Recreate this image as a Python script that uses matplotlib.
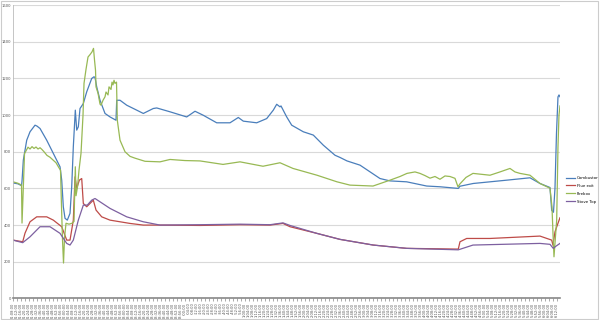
import numpy as np
import matplotlib.pyplot as plt
from matplotlib.patches import Rectangle
from datetime import datetime, timedelta

# minutes since 21:08 and temperatures
combustor_t = [0, 5, 8.5, 9, 10.3, 13.7, 17, 22, 24, 27, 33.7, 40.3, 47, 48.7, 50.3, 52, 54.3, 57, 58.7,
               60.3, 62.3, 63.7, 65.3, 67, 70.3, 73.7, 78.7, 81, 82, 83.7, 87, 92, 97, 103, 103.7, 107,
               113.7, 123.7, 130.3, 140.3, 143.7, 157, 173.7, 182, 190.3, 203.7, 217, 225.3, 230.3, 243.7,
               253.7, 260.3, 263.7, 267, 268, 273.7, 278.7, 290.3, 300.3, 310.3, 322, 327, 334, 347, 367,
               377, 393.7, 413.7, 427, 445.3, 447, 460.3, 493.7, 517, 527, 537, 538.7, 540.5, 542, 543.5,
               545, 546, 547]
combustor = [630, 625, 615, 640, 754, 863, 909, 945, 940, 927, 863, 791, 718, 645, 500, 437, 427, 464, 609,
             827, 1027, 918, 936, 1036, 1063, 1127, 1200, 1209, 1205, 1154, 1081, 1009, 990, 972, 1081, 1081,
             1054, 1027, 1009, 1036, 1039, 1018, 990, 1021, 999, 958, 958, 987, 967, 958,
             981, 1027, 1059, 1045, 1050, 990, 945, 909, 891, 836, 781, 769, 750, 727, 654,
             641, 636, 613, 609, 600, 612, 627, 645, 658, 627, 605, 481, 470, 600, 900,
             1099, 1110, 1100]

flue_t = [0, 9.7, 12, 17, 23.7, 33.7, 40.3, 48.7, 53.7, 57, 60.3, 62, 63.7, 66.3, 68.7, 70.3, 73.7, 77,
          80.3, 83, 88.7, 97, 107, 117, 130.3, 147, 187, 227, 257, 270, 277, 303.7, 327, 360.3, 393.7,
          445.3, 447, 453.7, 477, 527, 538.7, 540, 542, 545, 547]
flue_exit = [318, 309, 356, 418, 445, 445, 427, 391, 318, 318, 427, 663, 600, 645, 654, 518, 500, 518,
             536, 482, 445, 427, 418, 409, 400, 400, 398, 402, 400, 409, 391, 355, 322, 291, 273,
             269, 309, 327, 327, 340, 318, 290, 363, 410, 440]

firebox_t = [0, 5, 8.5, 9, 10, 11.5, 13, 15, 17, 19, 21, 23, 25, 27, 29, 31, 34, 37, 40, 43, 46, 47.5,
             48.5, 49.5, 50.5, 51.5, 53, 56, 59, 61, 62.3, 63, 64.5, 66, 68, 70, 71, 73, 75, 77, 79, 80.5,
             81.5, 82.5, 83, 85, 87, 88, 90, 92, 93, 95, 96, 98, 99, 100, 101, 102, 103.5, 104.3, 107,
             112, 117, 122, 132, 147, 157, 172, 187, 210, 227, 250, 267, 280, 304, 324, 337, 360, 377,
             387, 394, 402, 407, 412, 417, 422, 427, 432, 437, 442, 445, 447, 453, 460, 477, 487, 497,
             502, 507, 517, 527, 537, 539, 540, 541, 542, 543.7, 545, 546, 547]
firebox = [636, 628, 618, 411, 560, 790, 805, 825, 815, 828, 818, 826, 815, 822, 812, 800, 780, 770, 755,
           740, 712, 700, 500, 318, 193, 330, 410, 405, 410, 420, 718, 560, 609, 700, 792, 1000, 1173, 1250,
           1317, 1330, 1345, 1364, 1300, 1245, 1154, 1120, 1060, 1054, 1081, 1100, 1126, 1110, 1154, 1140,
           1180, 1165, 1190, 1173, 1180, 972, 863, 800, 775, 765, 748, 745, 758, 752, 750, 731, 745, 721,
           740, 709, 672, 636, 618, 613, 645, 665, 682, 690, 682, 670, 656, 665, 650, 668, 665, 655, 609,
           625, 660, 682, 672, 690, 709, 690, 682, 672, 627, 601, 500, 356, 227, 300, 427, 827, 1000, 1050]

stove_t = [0, 9.7, 17, 27, 37, 47, 53.7, 57, 60.3, 65.3, 70.3, 74.3, 78.7, 82, 97, 113.7, 130.3, 147,
           187, 227, 257, 270, 277, 303.7, 327, 360.3, 393.7, 445.3, 460, 527, 537, 540.3, 543, 547]
stove_top = [318, 304, 336, 391, 391, 355, 300, 291, 318, 427, 509, 509, 536, 545, 491, 445, 418, 400,
             402, 405, 402, 412, 398, 355, 322, 291, 273, 265, 291, 300, 295, 273, 285, 300]

# category labels along the time axis, every 4 minutes from 21:08:00
start = datetime(2010, 1, 1, 21, 8)
tick_minutes = list(range(0, 548, 4))
tick_labels = [(start + timedelta(minutes=m)).strftime("%H:%M:%S").lstrip("0") or "0" for m in tick_minutes]

fig = plt.figure(figsize=(6, 3.2), dpi=100)
ax = fig.add_axes([0.0217, 0.0675, 0.9116, 0.9165])

ax.plot(combustor_t, combustor, color="#4A7EBB", lw=0.9, label="Combustor")
ax.plot(flue_t, flue_exit, color="#BE4B48", lw=0.9, label="Flue exit")
ax.plot(firebox_t, firebox, color="#98B954", lw=0.9, label="Firebox")
ax.plot(stove_t, stove_top, color="#7D60A0", lw=0.9, label="Stove Top")

ax.set_xlim(0, 547)
ax.set_ylim(0, 1600)
ax.set_yticks(np.arange(0, 1601, 200))
ax.tick_params(axis="y", labelsize=2.7, labelcolor="#555555", length=0, pad=1.5)
ax.set_xticks(tick_minutes)
ax.set_xticklabels(tick_labels, rotation=90, fontsize=2.6, color="#555555")
ax.tick_params(axis="x", length=2, width=0.5, color="#888888", pad=1)
ax.grid(axis="y", color="#d9d9d9", lw=0.8)
ax.set_axisbelow(True)
for side in ["top", "right"]:
    ax.spines[side].set_visible(False)
ax.spines["left"].set_color("#bbbbbb")
ax.spines["left"].set_linewidth(0.6)
ax.spines["bottom"].set_color("#888888")
ax.spines["bottom"].set_linewidth(1.2)

fig.legend(loc="upper left", bbox_to_anchor=(0.94, 0.455), frameon=False, fontsize=2.8,
           handlelength=2.4, labelspacing=1.0, handletextpad=0.5, borderaxespad=0)

fig.patches.append(Rectangle((0.002, 0.003), 0.995, 0.994, transform=fig.transFigure,
                             fill=False, edgecolor="#cccccc", lw=0.8))

fig.savefig("out.png", dpi=100)
